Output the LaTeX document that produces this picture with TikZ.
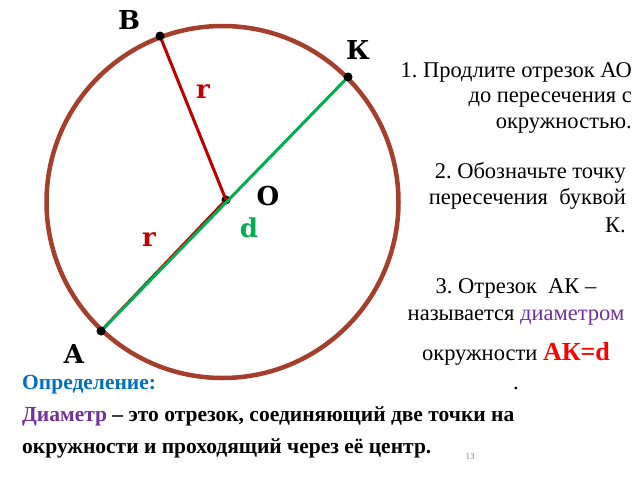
\documentclass[tikz,border=0pt]{standalone}
\usepackage{fontspec}
\setmainfont{Liberation Serif}
\newfontfamily\labelfont{DejaVu Serif}
\frenchspacing
\usetikzlibrary{positioning}
\definecolor{rimbrown}{RGB}{166,62,44}
\definecolor{radred}{RGB}{192,0,0}
\definecolor{diamgreen}{RGB}{0,176,80}
\definecolor{defblue}{RGB}{0,112,192}
\definecolor{diampurple}{RGB}{112,48,160}
\tikzset{
  % dots on the circle
  pt/.style={fill=black},
  lbl/.style={font=\labelfont\bfseries\fontsize{26}{26}\selectfont, inner sep=0pt},
  task/.style={font=\fontsize{22.5}{25.5}\selectfont, inner sep=0pt},
}

\begin{document}
\begin{tikzpicture}[x=1pt,y=-1pt]
    \useasboundingbox[fill=white] (0,0) rectangle (640,480);

    \coordinate (O) at (226,200);
    \coordinate (B) at (160,36);
    \coordinate (K) at (348,77);
    \coordinate (A) at (101,331);

    \draw[rimbrown, line width=4.5pt] (222.5,202) circle (176pt);
    \fill[pt] (O) circle (4.5pt);

    \draw[radred, line width=3pt] (B) -- (O);
    \draw[radred, line width=3pt] ([xshift=-1.5pt,yshift=-1.5pt]A) -- ([xshift=-1.5pt,yshift=-1.5pt]O);
    \draw[diamgreen, line width=3pt] ([xshift=1pt,yshift=1pt]A) -- ([xshift=1pt,yshift=1pt]K);

    \foreach \p in {B,K,A}
        \fill[pt] (\p) circle (4.5pt);

    \node[lbl] (labB) at (129,20) {B};
    \node[lbl] (labK) at (358,50) {К};
    \node[lbl] (labO) at (268,196) {О};
    \node[lbl] (labA) at (74,354) {А};
    \node[lbl, radred] (labr1) at (203,92) {r};
    \node[lbl, radred] (labr2) at (149,240) {r};
    \node[lbl, diamgreen] (labd) at (249,228) {d};

    \node[task, align=right, anchor=north east] (step1) at (632,62)
        {1. Продлите отрезок АО\\до пересечения с\\окружностью.};
    \node[task, align=right, anchor=north east] (step2) at (626,162)
        {2. Обозначьте точку\\[1pt]пересечения~~буквой\\[2pt]К.};
    \node[task, align=center, anchor=north] (step3) at (516,278)
        {3. Отрезок~~АК –\\[2pt]называется \textcolor{diampurple}{диаметром}\\[14pt]окружности \textcolor{red}{\bfseries\fontsize{26}{26}\selectfont АК=d}\\[4pt].};

    \node[inner sep=0pt, anchor=north west, align=left, font=\bfseries\fontsize{21.5}{32}\selectfont] (defn) at (22,375)
        {\textcolor{defblue}{Определение:}\\
         \textcolor{diampurple}{Диаметр} – это отрезок, соединяющий две точки на\\
         окружности и проходящий через её центр.};
    \node[inner sep=0pt, font=\fontsize{9}{9}\selectfont, gray] (pagenum) at (470,457) {13};
\end{tikzpicture}
\end{document}
